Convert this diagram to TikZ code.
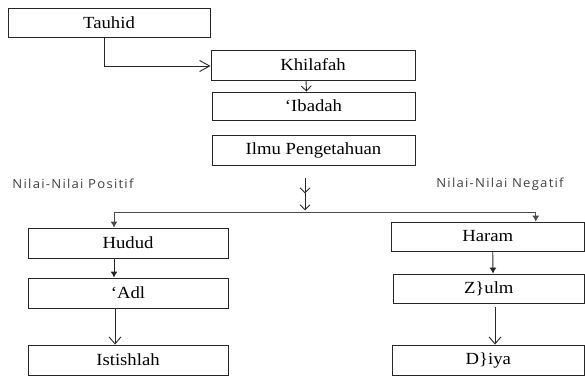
\documentclass[tikz,border=0pt]{standalone}
\usepackage{fontspec}
\setmainfont[FakeStretch=1.1]{Liberation Serif}
\newfontfamily\labfont[LetterSpace=10,FakeStretch=1.05]{Open Sans}
\usetikzlibrary{arrows.meta,calc}
\begin{document}
\begin{tikzpicture}[x=1pt,y=-1pt,
  box/.style={draw=black!85,line width=0.9pt,inner sep=0pt,anchor=center,
    font=\fontsize{17}{20}\selectfont},
  lab/.style={text=black!75,inner sep=0pt,anchor=center,font=\labfont\fontsize{12.5}{14}\selectfont},
  conn/.style={draw=black!85,line width=0.9pt},
  openv/.style={-{Straight Barb[length=7pt,width=12pt]}},
  smallv/.style={-{Straight Barb[length=5pt,width=10pt]}},
  fillv/.style={-{Latex[length=6pt,width=7pt]}}
]
\useasboundingbox (0,0) rectangle (585,380);
% top boxes
\node[box,minimum width=202pt,minimum height=29pt] (tauhid) at (109,22.5) {Tauhid};
\node[box,minimum width=204pt,minimum height=30pt] (khilafah) at (313,65) {Khilafah};
\node[box,minimum width=203pt,minimum height=28pt] (ibadah) at (313.5,106) {‘Ibadah};
\node[box,minimum width=203pt,minimum height=30pt] (ilmu) at (313.5,150) {Ilmu Pengetahuan};
% left column
\node[box,minimum width=200pt,minimum height=30pt] (hudud) at (128,243) {Hudud};
\node[box,minimum width=200pt,minimum height=30pt] (adl) at (128,293) {‘Adl};
\node[box,minimum width=200pt,minimum height=30pt] (istishlah) at (128,360) {Istishlah};
% right column
\node[box,minimum width=193.5pt,minimum height=29pt] (haram) at (487.75,236.5) {Haram};
\node[box,minimum width=191.5pt,minimum height=29pt] (zulm) at (488.75,288.5) {Z\}ulm};
\node[box,minimum width=192.5pt,minimum height=30pt] (diya) at (488.25,360) {D\}iya};
% labels
\node[lab] (pos) at (73,184) {Nilai-Nilai Positif};
\node[lab] (neg) at (500,184) {Nilai-Nilai Negatif};
% connectors
\draw[conn,-{Straight Barb[length=10pt,width=11pt]}] ([xshift=-5pt]tauhid.south) |- ([yshift=-1pt]khilafah.west);
\draw[conn,smallv] ([xshift=-7pt]khilafah.south) -- ([xshift=-7pt]ibadah.north);
\coordinate (d1) at ($(ilmu.south)+(-8.5,13)$);
\coordinate (d2) at ($(ilmu.south)+(-8.5,28)$);
\coordinate (split) at ($(ilmu.south)+(-8.5,47)$);
\draw[conn,smallv] (d1) -- (d2);
\draw[conn,smallv] (d2) -- ($(ilmu.south)+(-8.5,45)$);
\draw[conn,draw=black!70,fillv] (split) -| ([xshift=-14pt]hudud.north);
\draw[conn,draw=black!70,fillv] (split) -| ([xshift=48pt]haram.north);
\draw[conn,fillv] ([xshift=-14pt]hudud.south) -- ([xshift=-14pt]adl.north);
\draw[conn,openv] ([xshift=-13pt]adl.south) -- ([xshift=-13pt]istishlah.north);
\draw[conn,fillv] ([xshift=5pt]haram.south) -- ([xshift=4.25pt]zulm.north);
\draw[conn,openv] ([xshift=6.25pt,yshift=-4pt]zulm.south) -- ([xshift=6.75pt]diya.north);
\end{tikzpicture}
\end{document}
